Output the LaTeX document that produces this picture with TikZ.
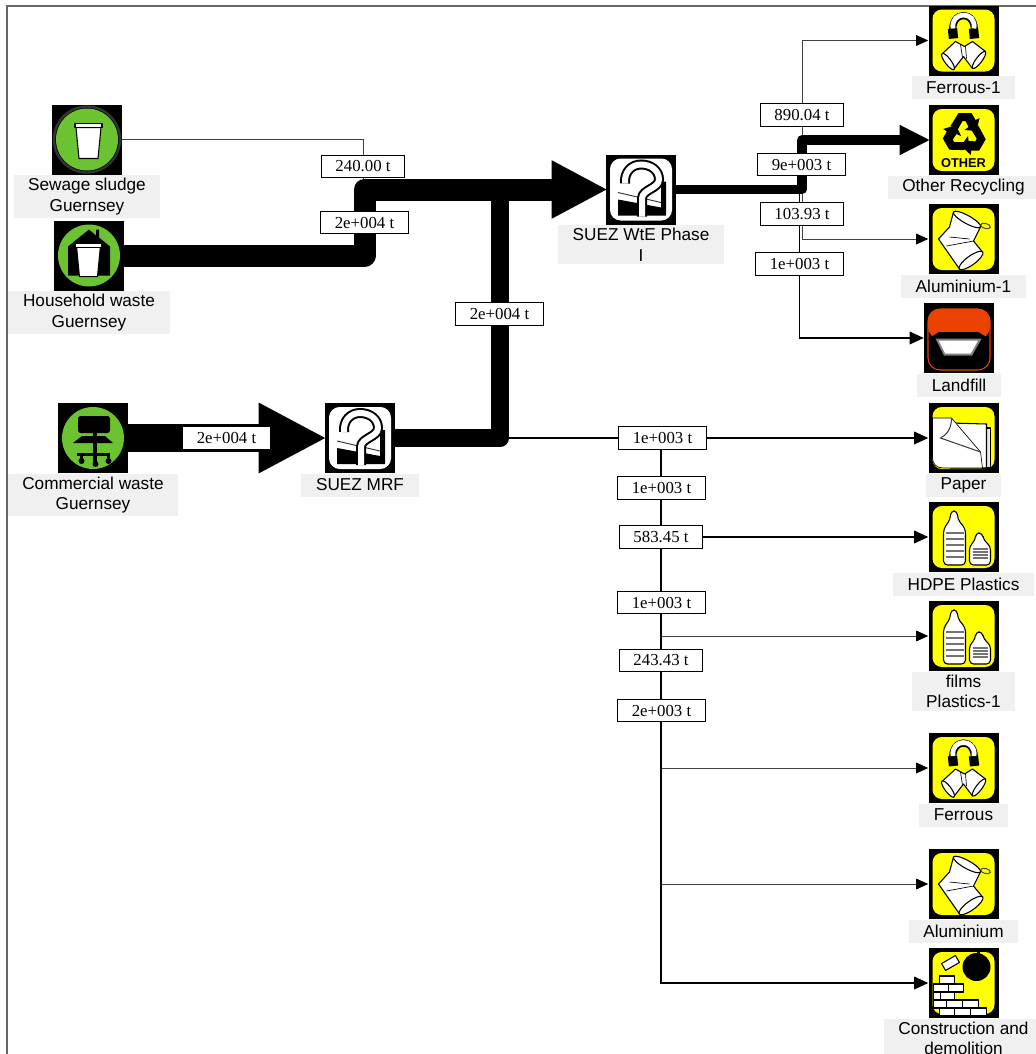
\documentclass[tikz,border=0pt]{standalone}
\usepackage{fontspec}
\setmainfont{Liberation Serif}
\setsansfont{Liberation Sans}
\usetikzlibrary{arrows.meta,positioning}

\definecolor{wastegreen}{HTML}{6CC332}
\definecolor{padyellow}{HTML}{FFFF00}
\definecolor{landred}{HTML}{EA4200}
\definecolor{tagbg}{HTML}{F0F0F0}

\tikzset{
  iconbox/.style={draw=none, fill=black, minimum size=52.5pt, inner sep=0pt},
  tag/.style={fill=tagbg, font=\sffamily\fontsize{12.9}{15.5}\selectfont, align=center,
    inner xsep=11pt, inner ysep=2.3pt, minimum height=17.25pt, node distance=0pt},
  qty/.style={draw=black, line width=0.7pt, fill=white, font=\rmfamily\fontsize{12.6}{14}\selectfont,
    inner xsep=10.5pt, inner ysep=0pt, minimum height=16.9pt},
  hairflow/.style={draw=black!75, line width=0.65pt, -{Triangle[length=9pt,width=8pt,black]}},
  lineflow/.style={draw=black, line width=0.85pt, -{Triangle[length=10.5pt,width=9.5pt]}},
  bulkflow/.style={draw=black, line join=round, shorten >=-1.5pt},
  bit/.style={draw=black, fill=white, line width=0.8pt, line join=round},
  pad/.pic={\fill[padyellow, rounded corners=7pt] (-31,-31) rectangle (31,31);},
  bin/.pic={
    \path[bit] (-12,-12) -- (13,-12) -- (10,#1) -- (-9,#1) -- cycle;
    \path[bit] (-13,-16) rectangle (14,-12);
  },
  greendisc/.pic={\fill[wastegreen] (0,0) circle (31);},
  sewageicon/.pic={
    \draw[black!80, line width=1.8pt] (0,0) circle (33);
    \path pic {greendisc};
    \path (1,0) pic {bin=19};
  },
  houseicon/.pic={
    \path pic {greendisc};
    \fill[black] (0,-26) -- (7,-20) -- (7,-26) -- (10,-26) -- (10,-18) -- (21,-9) -- (21,20) -- (-21,20) -- (-21,-9) -- cycle;
    \path (-1,3) pic[scale=.95] {bin=19};
  },
  deskicon/.pic={
    \path pic {greendisc};
    \fill[black, rounded corners=2pt] (-15,-22) rectangle (17,-5);
    \fill[black] (0,-6) rectangle (4,-1);
    \fill[black] (-11,-2) -- (12,-2) -- (20,5) -- (-20,5) -- cycle;
    \fill[black] (0,5) rectangle (4,26);
    \fill[black] (-16,15) rectangle (17,18);
    \foreach \foot/\drop in {-13/23,1/26,14/23} {
      \fill[black] (\foot,16) rectangle (\foot+3,\drop);
      \fill[black] (\foot+1.5,\drop) circle (3);
    }
  },
  quizicon/.pic={
    \fill[white, rounded corners=8pt] (-31,-31) rectangle (31,31);
    \fill[black] (-23,10) -- (20,18) -- (20,-8) -- (25,-8) -- (25,26) -- (-23,26) -- cycle;
    \draw[black!80, line width=.7pt] (-23,3) -- (20,13);
    \foreach \strokew/\col in {10/black, 6/white}
      \draw[\col, line width=\strokew*0.75pt, line cap=butt]
        (-16,-6) .. controls (-17,-18) and (-9,-25) .. (0,-25)
        .. controls (10,-25) and (18,-19) .. (18,-10)
        .. controls (18,-1) and (1,0) .. (1,9) -- (1,27);
  },
  ferrousicon/.pic={
    \path pic {pad};
    \draw[black, line width=7pt] (-10,-2) -- (-11,-12) (11,-2) -- (10,-12);
    \draw[black, line width=5.4pt] (-10.5,-7) .. controls (-14,-31) and (14,-31) .. (10.5,-7);
    \draw[white, line width=3.6pt] (-10.5,-12) .. controls (-13,-30) and (13,-30) .. (10.5,-12);
    \path[bit] (-21,13) -- (-8,1) -- (1,6) -- (9,1) -- (22,11) -- (9,28) -- (0,16) -- (-10,29) -- cycle;
    \draw[black, line width=.5pt] (-3,4) -- (-1,17) (2,6) -- (3,18);
    \path[bit, rotate around={37:(-15.5,21)}] (-15.5,21) ellipse (3 and 10);
    \path[bit, rotate around={-37:(15.5,19.5)}] (15.5,19.5) ellipse (3 and 10.5);
  },
  recycleicon/.pic={
    \path pic {pad};
    \foreach \turn in {0,120,240}
      \fill[black, shift={(1,-6)}, rotate=\turn] (-14,-8) -- (-6,-21) -- (7,-21) -- (11,-14) -- (15,-16) -- (12,-3) -- (0,-4) -- (4,-7) -- (1,-13) -- (-2,-13) -- (-7,-4) -- cycle;
    \node[font=\sffamily\bfseries\fontsize{9.6}{10}\selectfont, text=black, inner sep=0pt] (othermark) at (0,23.5) {OTHER};
  },
  canicon/.pic={
    \path pic {pad};
    \path[bit] (-10,-27) -- (17,-12) -- (10,2) -- (19,13) -- (-4,30) -- (-25,0) -- (-14,-12) -- cycle;
    \path[bit, rotate around={-29:(3.5,-19.5)}] (3.5,-19.5) ellipse (15.5 and 4);
    \path[bit, rotate around={36:(7.5,21.5)}] (7.5,21.5) ellipse (14.5 and 4.5);
    \draw[black, line width=.5pt] (-14,-2) -- (6,0) (-17,7) -- (10,2);
    \draw[black!70, line width=.8pt, rotate around={-15:(22,-13)}] (22,-13) ellipse (5 and 2.5);
  },
  tipicon/.pic={
    \draw[landred, fill=black, line width=.8pt, rounded corners=9pt] (-31,-29) rectangle (31,32);
    \fill[landred, rounded corners=9pt] (-31,-29) -- (31,-29) -- (31,1) -- (-31,1) -- cycle;
    \fill[black] (-31,1) -- (-20,-6) -- (19,-6) -- (31,1) -- cycle;
    \draw[black!50, fill=white, line width=1.5pt] (-22,1.5) -- (21,1.5) -- (12.5,16.5) -- (-14.5,16.5) -- cycle;
  },
  papericon/.pic={
    \path pic {pad};
    \path[bit, fill=black!8] (18,-10) rectangle (27,30);
    \path[bit] (-13,-15) -- (23,-14) -- (23,30) -- (-13,30) -- cycle;
    \path[bit, line width=.5pt] (-31,-20) -- (-12,-20) -- (17,14) -- (19,30) -- (-20,30) .. controls (-27,30) and (-31,26) .. (-31,20) -- cycle;
    \draw[black!75, line width=.8pt] (-12,-20) .. controls (-12,-9) and (-17,-3) .. (-23,0) -- (17,14);
  },
  bottleicon/.pic={
    \path pic {pad};
    \path[bit, rounded corners=3pt] (-13,-26) -- (-6,-26) -- (-6,-18) -- (2,-8) -- (2,28) -- (-20,28) -- (-20,-8) -- (-13,-18) -- cycle;
    \path[bit, rounded corners=3pt] (12,-4) -- (19,-4) -- (20,3) -- (27,9) -- (27,28) -- (6,28) -- (6,9) -- (12,3) -- cycle;
    \foreach \row in {-4,2,8,14,20}
      \draw[black!55, line width=1.5pt] (-18,\row) -- (0,\row);
    \foreach \row in {12,15,18,21}
      \draw[black!55, line width=1.2pt] (9,\row) -- (24,\row);
  },
  brickicon/.pic={
    \path pic {pad};
    \fill[black] (13,-16) circle (14);
    \fill[black] (13,-33) rectangle (16,-28);
    \path[bit, rotate around={30:(-13,-20)}] (-21,-24) rectangle (-5,-16);
    \foreach \xa/\xb/\ya in {-24/-9/-7,
      -30/-15/1, -15/0/1,
      -30/-23/9, -23/-9/9,
      -30/-17/17, -17/-1/17, -1/15/17,
      -24/-9/25, -9/7/25, 7/23/25}
      \path[bit] (\xa,\ya) rectangle (\xb,\ya+8);
  },
}

\begin{document}
\begin{tikzpicture}[x=0.75pt, y=-0.75pt]
  \useasboundingbox (0,0) rectangle (1036,1054);
  \draw[black!60, line width=1pt] (7,1060) -- (7,6) -- (1040,6);

  % sources and plants
  \node[iconbox] (sewage) at (87,139.5) {};
  \node[tag, below=of sewage] (sewagetag) {Sewage sludge\\Guernsey};
  \node[iconbox] (household) at (89,255.5) {};
  \node[tag, below=of household] (householdtag) {Household waste\\Guernsey};
  \node[iconbox] (commercial) at (93,438) {};
  \node[tag, below=of commercial] (commercialtag) {Commercial waste\\Guernsey};
  \node[iconbox] (mrf) at (360,438) {};
  \node[tag, below=of mrf] (mrftag) {SUEZ MRF};
  \node[iconbox] (wte) at (641,189.5) {};
  \node[tag, below=of wte] (wtetag) {SUEZ WtE Phase\\I};

  % outputs of the WtE plant
  \node[iconbox] (ferrousa) at (963.5,40.5) {};
  \node[tag, below=of ferrousa] (ferrousatag) {Ferrous-1};
  \node[iconbox] (other) at (963.5,140) {};
  \node[tag, below=of other] (othertag) {Other Recycling};
  \node[iconbox] (alua) at (963.5,239) {};
  \node[tag, below=of alua] (aluatag) {Aluminium-1};
  \node[iconbox] (landfill) at (959,338) {};
  \node[tag, below=of landfill] (landfilltag) {Landfill};

  % outputs of the MRF
  \node[iconbox] (paper) at (963.5,438) {};
  \node[tag, below=of paper] (papertag) {Paper};
  \node[iconbox] (hdpe) at (963.5,537) {};
  \node[tag, below=of hdpe] (hdpetag) {HDPE Plastics};
  \node[iconbox] (films) at (963.5,636) {};
  \node[tag, below=of films] (filmstag) {films\\Plastics-1};
  \node[iconbox] (ferrousb) at (963.5,768) {};
  \node[tag, below=of ferrousb] (ferrousbtag) {Ferrous};
  \node[iconbox] (alub) at (963.5,884) {};
  \node[tag, below=of alub] (alubtag) {Aluminium};
  \node[iconbox] (rubble) at (963.5,983) {};
  \node[tag, below=of rubble] (rubbletag) {Construction and\\demolition};

  \pic at (sewage) {sewageicon};
  \pic at (household) {houseicon};
  \pic at (commercial) {deskicon};
  \pic at (mrf) {quizicon};
  \pic at (wte) {quizicon};
  \pic at (ferrousa) {ferrousicon};
  \pic at (other) {recycleicon};
  \pic at (alua) {canicon};
  \pic at (landfill) {tipicon};
  \pic at (paper) {papericon};
  \pic at (hdpe) {bottleicon};
  \pic at (films) {bottleicon};
  \pic at (ferrousb) {ferrousicon};
  \pic at (alub) {canicon};
  \pic at (rubble) {brickicon};

  \coordinate (sewagebend) at (363,189.5);
  \coordinate (housebend) at (364.5,189.5);
  \coordinate (mrfbend) at (500,438);
  \coordinate (mrfup) at (500,189.5);
  \coordinate (sortbus) at (661,438);
  \coordinate (wtebus) at (802,189.5);
  \coordinate (wtebusb) at (799.5,189.5);

  % thin flows go under the heavy ones
  \draw[hairflow, -] (sewage.east) -| (sewagebend);
  \draw[hairflow] (wtebus) |- (ferrousa.west);
  \draw[hairflow] (wtebus) |- (alua.west);
  \draw[lineflow] (wtebusb) |- (landfill.west);
  \draw[lineflow] (mrfbend) -- (paper.west);
  \draw[lineflow] (sortbus) |- (hdpe.west);
  \draw[hairflow] (sortbus) |- (films.west);
  \draw[hairflow] (sortbus) |- (ferrousb.west);
  \draw[hairflow] (sortbus) |- (alub.west);
  \draw[lineflow] (sortbus) |- (rubble.west);

  \draw[bulkflow, line width=14pt] (mrf.east) -- (mrfbend) -- (mrfup);
  \draw[bulkflow, line width=16.5pt, -{Triangle[length=42pt,width=40.5pt]}] (household.east) -| (housebend) -- (wte.west);
  \draw[bulkflow, line width=21pt, -{Triangle[length=51pt,width=49pt]}] (commercial.east) -- (mrf.west);
  \draw[bulkflow, line width=7pt, -{Triangle[length=23pt,width=21pt]}] (wte.east) -| (wtebus) |- (other.west);

  \node[qty] (q240) at (363,166.5) {240.00 t};
  \node[qty] (qhouse) at (364.5,222.5) {2e+004 t};
  \node[qty] (qmrfout) at (499.5,314) {2e+004 t};
  \node[qty] (qcomm) at (226.5,438) {2e+004 t};
  \node[qty] (q890) at (802,115) {890.04 t};
  \node[qty] (qother) at (801.5,164.5) {9e+003 t};
  \node[qty] (q103) at (802,214) {103.93 t};
  \node[qty] (qland) at (799.5,264) {1e+003 t};
  \node[qty] (qpaper) at (662.5,438) {1e+003 t};
  \node[qty] (qsorta) at (661.5,488) {1e+003 t};
  \node[qty] (q583) at (661,537) {583.45 t};
  \node[qty] (qsortb) at (661.5,602.5) {1e+003 t};
  \node[qty] (q243) at (661,660.5) {243.43 t};
  \node[qty] (qsortc) at (661.5,710.5) {2e+003 t};
\end{tikzpicture}
\end{document}
